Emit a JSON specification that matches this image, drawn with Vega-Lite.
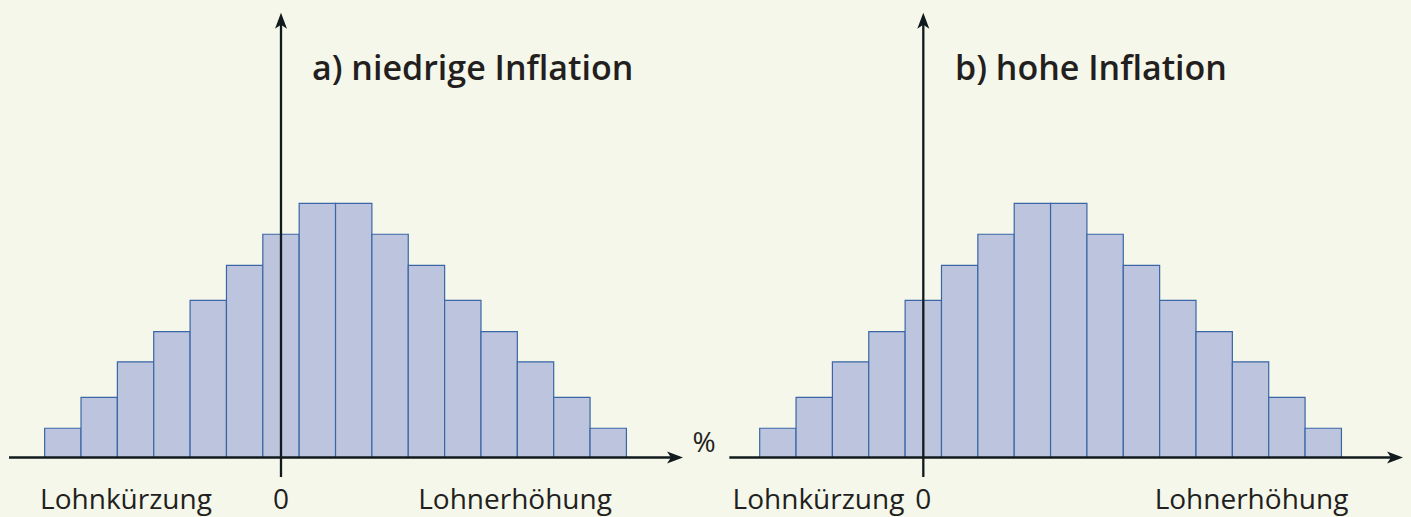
{
  "$schema": "https://vega.github.io/schema/vega-lite/v6.json",
  "background": "#f5f7ea",
  "padding": 0,
  "spacing": 0,
  "bounds": "flush",
  "config": {"view": {"stroke": null}, "font": "Open Sans"},
  "datasets": {
    "bars": [
      {"panel": "a", "von": -6.5, "bis": -5.5, "anteil": 0.92},
      {"panel": "a", "von": -5.5, "bis": -4.5, "anteil": 1.89},
      {"panel": "a", "von": -4.5, "bis": -3.5, "anteil": 3.01},
      {"panel": "a", "von": -3.5, "bis": -2.5, "anteil": 3.96},
      {"panel": "a", "von": -2.5, "bis": -1.5, "anteil": 4.94},
      {"panel": "a", "von": -1.5, "bis": -0.5, "anteil": 6.04},
      {"panel": "a", "von": -0.5, "bis": 0.5, "anteil": 7.02},
      {"panel": "a", "von": 0.5, "bis": 1.5, "anteil": 7.99},
      {"panel": "a", "von": 1.5, "bis": 2.5, "anteil": 7.99},
      {"panel": "a", "von": 2.5, "bis": 3.5, "anteil": 7.02},
      {"panel": "a", "von": 3.5, "bis": 4.5, "anteil": 6.04},
      {"panel": "a", "von": 4.5, "bis": 5.5, "anteil": 4.94},
      {"panel": "a", "von": 5.5, "bis": 6.5, "anteil": 3.96},
      {"panel": "a", "von": 6.5, "bis": 7.5, "anteil": 3.01},
      {"panel": "a", "von": 7.5, "bis": 8.5, "anteil": 1.89},
      {"panel": "a", "von": 8.5, "bis": 9.5, "anteil": 0.92},
      {"panel": "b", "von": -4.5, "bis": -3.5, "anteil": 0.92},
      {"panel": "b", "von": -3.5, "bis": -2.5, "anteil": 1.89},
      {"panel": "b", "von": -2.5, "bis": -1.5, "anteil": 3.01},
      {"panel": "b", "von": -1.5, "bis": -0.5, "anteil": 3.96},
      {"panel": "b", "von": -0.5, "bis": 0.5, "anteil": 4.94},
      {"panel": "b", "von": 0.5, "bis": 1.5, "anteil": 6.04},
      {"panel": "b", "von": 1.5, "bis": 2.5, "anteil": 7.02},
      {"panel": "b", "von": 2.5, "bis": 3.5, "anteil": 7.99},
      {"panel": "b", "von": 3.5, "bis": 4.5, "anteil": 7.99},
      {"panel": "b", "von": 4.5, "bis": 5.5, "anteil": 7.02},
      {"panel": "b", "von": 5.5, "bis": 6.5, "anteil": 6.04},
      {"panel": "b", "von": 6.5, "bis": 7.5, "anteil": 4.94},
      {"panel": "b", "von": 7.5, "bis": 8.5, "anteil": 3.96},
      {"panel": "b", "von": 8.5, "bis": 9.5, "anteil": 3.01},
      {"panel": "b", "von": 9.5, "bis": 10.5, "anteil": 1.89},
      {"panel": "b", "von": 10.5, "bis": 11.5, "anteil": 0.92}
    ],
    "lines": [
      {"panel": "a", "x1": -7.48, "x2": 10.95, "y1": 0, "y2": 0},
      {"panel": "a", "x1": 0, "x2": 0, "y1": -0.613, "y2": 13.8},
      {"panel": "b", "x1": -5.335, "x2": 13.055, "y1": 0, "y2": 0},
      {"panel": "b", "x1": 0, "x2": 0, "y1": -0.613, "y2": 13.8}
    ],
    "arrows": [
      {"panel": "a", "x": 11.056, "y": 0, "dir": "right"},
      {"panel": "a", "x": 0, "y": 13.987, "dir": "up"},
      {"panel": "b", "x": 13.193, "y": 0, "dir": "right"},
      {"panel": "b", "x": 0, "y": 13.987, "dir": "up"}
    ],
    "labels": [
      {"panel": "a", "kind": "label", "x": -4.263, "y": -1.604, "text": "Lohnkürzung"},
      {"panel": "a", "kind": "label", "x": 0, "y": -1.604, "text": "0"},
      {"panel": "a", "kind": "label", "x": 6.436, "y": -1.604, "text": "Lohnerhöhung"},
      {"panel": "a", "kind": "label", "x": 11.634, "y": 0.173, "text": "%"},
      {"panel": "a", "kind": "title", "x": 0.853, "y": 11.871, "text": "a) niedrige Inflation"},
      {"panel": "b", "kind": "label", "x": -2.882, "y": -1.604, "text": "Lohnkürzung"},
      {"panel": "b", "kind": "label", "x": 0, "y": -1.604, "text": "0"},
      {"panel": "b", "kind": "label", "x": 9.026, "y": -1.604, "text": "Lohnerhöhung"},
      {"panel": "b", "kind": "title", "x": 0.872, "y": 11.871, "text": "b) hohe Inflation"}
    ]
  },
  "hconcat": [
    {
      "width": 725,
      "height": 517,
      "layer": [
        {
          "data": {"name": "bars"},
          "transform": [{"filter": "datum.panel == 'a'"}],
          "mark": {"type": "rect", "fill": "#bcc4de", "stroke": "#3a66a6", "strokeWidth": 1.2},
          "encoding": {
            "x": {"field": "von", "type": "quantitative", "scale": {"domain": [-7.728, 12.211], "nice": false, "zero": false}, "axis": null},
            "x2": {"field": "bis"},
            "y": {"field": "anteil", "type": "quantitative", "scale": {"domain": [-1.8711, 14.3868], "nice": false, "zero": false}, "axis": null},
            "y2": {"datum": 0}
          }
        },
        {
          "data": {"name": "lines"},
          "transform": [{"filter": "datum.panel == 'a'"}],
          "mark": {"type": "rule", "color": "#111a1c", "strokeWidth": 2.3},
          "encoding": {
            "x": {"field": "x1", "type": "quantitative", "scale": {"domain": [-7.728, 12.211], "nice": false, "zero": false}, "axis": null},
            "x2": {"field": "x2"},
            "y": {"field": "y1", "type": "quantitative", "scale": {"domain": [-1.8711, 14.3868], "nice": false, "zero": false}, "axis": null},
            "y2": {"field": "y2"}
          }
        },
        {
          "data": {"name": "arrows"},
          "transform": [{"filter": "datum.panel == 'a'"}],
          "mark": {"type": "point", "filled": true, "color": "#111a1c", "opacity": 1, "size": 64, "strokeWidth": 0},
          "encoding": {
            "x": {"field": "x", "type": "quantitative", "scale": {"domain": [-7.728, 12.211], "nice": false, "zero": false}, "axis": null},
            "y": {"field": "y", "type": "quantitative", "scale": {"domain": [-1.8711, 14.3868], "nice": false, "zero": false}, "axis": null},
            "shape": {"field": "dir", "type": "nominal", "legend": null, "scale": {"domain": ["right", "up"], "range": ["M0,0L-4,-1.5L-3,0L-4,1.5Z", "M0,0L-1.5,4L0,3L1.5,4Z"]}}
          }
        },
        {
          "data": {"name": "labels"},
          "transform": [{"filter": "datum.panel == 'a' && datum.kind == 'label'"}],
          "mark": {"type": "text", "align": "center", "baseline": "alphabetic", "fontSize": 28, "color": "#231f20"},
          "encoding": {
            "x": {"field": "x", "type": "quantitative", "scale": {"domain": [-7.728, 12.211], "nice": false, "zero": false}, "axis": null},
            "y": {"field": "y", "type": "quantitative", "scale": {"domain": [-1.8711, 14.3868], "nice": false, "zero": false}, "axis": null},
            "text": {"field": "text"}
          }
        },
        {
          "data": {"name": "labels"},
          "transform": [{"filter": "datum.panel == 'a' && datum.kind == 'title'"}],
          "mark": {"type": "text", "align": "left", "baseline": "alphabetic", "fontSize": 34, "fontWeight": 600, "color": "#231f20"},
          "encoding": {
            "x": {"field": "x", "type": "quantitative", "scale": {"domain": [-7.728, 12.211], "nice": false, "zero": false}, "axis": null},
            "y": {"field": "y", "type": "quantitative", "scale": {"domain": [-1.8711, 14.3868], "nice": false, "zero": false}, "axis": null},
            "text": {"field": "text"}
          }
        }
      ]
    },
    {
      "width": 686,
      "height": 517,
      "layer": [
        {
          "data": {"name": "bars"},
          "transform": [{"filter": "datum.panel == 'b'"}],
          "mark": {"type": "rect", "fill": "#bcc4de", "stroke": "#3a66a6", "strokeWidth": 1.2},
          "encoding": {
            "x": {"field": "von", "type": "quantitative", "scale": {"domain": [-5.454, 13.413], "nice": false, "zero": false}, "axis": null},
            "x2": {"field": "bis"},
            "y": {"field": "anteil", "type": "quantitative", "scale": {"domain": [-1.8711, 14.3868], "nice": false, "zero": false}, "axis": null},
            "y2": {"datum": 0}
          }
        },
        {
          "data": {"name": "lines"},
          "transform": [{"filter": "datum.panel == 'b'"}],
          "mark": {"type": "rule", "color": "#111a1c", "strokeWidth": 2.3},
          "encoding": {
            "x": {"field": "x1", "type": "quantitative", "scale": {"domain": [-5.454, 13.413], "nice": false, "zero": false}, "axis": null},
            "x2": {"field": "x2"},
            "y": {"field": "y1", "type": "quantitative", "scale": {"domain": [-1.8711, 14.3868], "nice": false, "zero": false}, "axis": null},
            "y2": {"field": "y2"}
          }
        },
        {
          "data": {"name": "arrows"},
          "transform": [{"filter": "datum.panel == 'b'"}],
          "mark": {"type": "point", "filled": true, "color": "#111a1c", "opacity": 1, "size": 64, "strokeWidth": 0},
          "encoding": {
            "x": {"field": "x", "type": "quantitative", "scale": {"domain": [-5.454, 13.413], "nice": false, "zero": false}, "axis": null},
            "y": {"field": "y", "type": "quantitative", "scale": {"domain": [-1.8711, 14.3868], "nice": false, "zero": false}, "axis": null},
            "shape": {"field": "dir", "type": "nominal", "legend": null, "scale": {"domain": ["right", "up"], "range": ["M0,0L-4,-1.5L-3,0L-4,1.5Z", "M0,0L-1.5,4L0,3L1.5,4Z"]}}
          }
        },
        {
          "data": {"name": "labels"},
          "transform": [{"filter": "datum.panel == 'b' && datum.kind == 'label'"}],
          "mark": {"type": "text", "align": "center", "baseline": "alphabetic", "fontSize": 28, "color": "#231f20"},
          "encoding": {
            "x": {"field": "x", "type": "quantitative", "scale": {"domain": [-5.454, 13.413], "nice": false, "zero": false}, "axis": null},
            "y": {"field": "y", "type": "quantitative", "scale": {"domain": [-1.8711, 14.3868], "nice": false, "zero": false}, "axis": null},
            "text": {"field": "text"}
          }
        },
        {
          "data": {"name": "labels"},
          "transform": [{"filter": "datum.panel == 'b' && datum.kind == 'title'"}],
          "mark": {"type": "text", "align": "left", "baseline": "alphabetic", "fontSize": 34, "fontWeight": 600, "color": "#231f20"},
          "encoding": {
            "x": {"field": "x", "type": "quantitative", "scale": {"domain": [-5.454, 13.413], "nice": false, "zero": false}, "axis": null},
            "y": {"field": "y", "type": "quantitative", "scale": {"domain": [-1.8711, 14.3868], "nice": false, "zero": false}, "axis": null},
            "text": {"field": "text"}
          }
        }
      ]
    }
  ]
}
